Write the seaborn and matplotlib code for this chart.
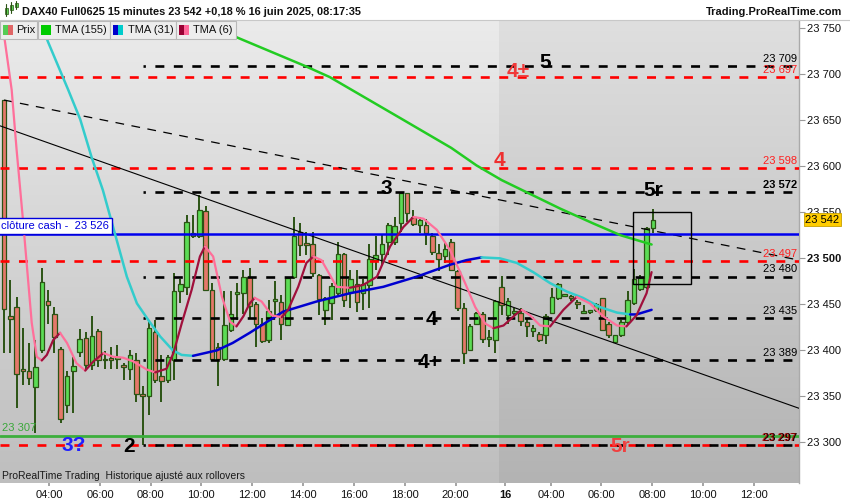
import numpy as np
import pandas as pd
import matplotlib
matplotlib.use("Agg")
import matplotlib.pyplot as plt
import matplotlib.transforms as mtrans
from matplotlib.patches import Rectangle
from matplotlib.lines import Line2D
from matplotlib.colors import LinearSegmentedColormap
import seaborn as sns

# ---------------- data (15-minute candles, DAX40 Full0625) ----------------
opens = [23672, 23437, 23447, 23379, 23378, 23360, 23400, 23454, 23439, 23401,
         23341, 23378, 23398, 23413, 23384, 23421, 23390, 23392, 23391, 23384,
         23380, 23390, 23351, 23350, 23420, 23372, 23368, 23390, 23464, 23469,
         23528, 23524, 23551, 23466, 23404, 23391, 23422, 23461, 23462, 23480,
         23450, 23429, 23411, 23454, 23453, 23427, 23480, 23529, 23517, 23516,
         23482, 23444, 23451, 23462, 23505, 23463, 23472, 23462, 23471, 23498,
         23505, 23518, 23518, 23538, 23571, 23545, 23536, 23536, 23524, 23506,
         23502, 23518, 23486, 23446, 23400, 23429, 23439, 23412, 23411, 23469,
         23438, 23441, 23441, 23431, 23421, 23418, 23417, 23441, 23457, 23459,
         23458, 23451, 23441, 23442, 23444, 23457, 23429, 23409, 23417, 23431,
         23451, 23467, 23469, 23533]
highs = [23672, 23476, 23458, 23424, 23408, 23411, 23489, 23466, 23447, 23404,
         23377, 23393, 23423, 23420, 23437, 23423, 23399, 23404, 23406, 23386,
         23400, 23397, 23361, 23433, 23433, 23395, 23395, 23484, 23478, 23547,
         23547, 23569, 23557, 23473, 23408, 23464, 23464, 23473, 23487, 23489,
         23453, 23435, 23455, 23475, 23460, 23480, 23545, 23538, 23529, 23529,
         23483, 23458, 23473, 23518, 23506, 23487, 23487, 23478, 23516, 23524,
         23525, 23538, 23545, 23572, 23571, 23553, 23545, 23543, 23527, 23516,
         23518, 23521, 23487, 23451, 23429, 23442, 23442, 23422, 23455, 23481,
         23457, 23446, 23446, 23435, 23428, 23420, 23440, 23468, 23473, 23461,
         23460, 23455, 23449, 23444, 23451, 23457, 23431, 23417, 23433, 23464,
         23488, 23482, 23534, 23554]
lows = [23397, 23397, 23337, 23362, 23362, 23310, 23397, 23429, 23397, 23321,
        23332, 23332, 23393, 23379, 23379, 23382, 23380, 23380, 23380, 23368,
        23368, 23344, 23297, 23330, 23364, 23344, 23364, 23368, 23451, 23460,
        23522, 23522, 23466, 23389, 23361, 23388, 23420, 23433, 23440, 23435,
        23404, 23408, 23408, 23435, 23411, 23426, 23478, 23502, 23504, 23480,
        23438, 23428, 23433, 23460, 23447, 23446, 23442, 23444, 23446, 23487,
        23493, 23504, 23514, 23529, 23540, 23535, 23527, 23514, 23504, 23486,
        23495, 23486, 23443, 23385, 23399, 23429, 23408, 23404, 23397, 23438,
        23429, 23438, 23426, 23414, 23414, 23409, 23407, 23440, 23455, 23458,
        23454, 23445, 23440, 23440, 23442, 23421, 23413, 23408, 23415, 23429,
        23449, 23465, 23467, 23527]
closes = [23445, 23434, 23374, 23378, 23370, 23382, 23474, 23449, 23415, 23325,
          23372, 23383, 23412, 23384, 23416, 23390, 23389, 23389, 23392, 23382,
          23395, 23353, 23350, 23424, 23368, 23367, 23393, 23464, 23472, 23539,
          23524, 23553, 23466, 23391, 23391, 23428, 23440, 23463, 23480, 23448,
          23429, 23410, 23443, 23456, 23429, 23479, 23524, 23514, 23515, 23484,
          23456, 23457, 23470, 23505, 23455, 23477, 23452, 23472, 23499, 23504,
          23516, 23536, 23535, 23571, 23549, 23537, 23542, 23527, 23507, 23499,
          23510, 23487, 23446, 23397, 23426, 23441, 23412, 23413, 23454, 23449,
          23454, 23443, 23432, 23426, 23424, 23411, 23437, 23458, 23472, 23460,
          23457, 23450, 23442, 23443, 23450, 23422, 23417, 23417, 23431, 23455,
          23478, 23479, 23533, 23542]

# moving averages (bar index, value)
tma155_bar = [32, 38, 48.8, 52.7, 64, 72, 76, 80, 86.6, 89.3, 94.5, 98.9, 103.8]
tma155_val = [23764, 23740, 23709, 23697, 23652, 23620, 23601, 23585, 23563, 23554, 23538, 23525, 23515]

tma31_bar = [6.5, 8.0, 11.2, 13.1, 14.9, 16.7, 18.6, 20.5, 22.1, 23.9, 25.8, 27.8, 29.2, 31.0,
             34.8, 37.3, 40.0, 45.3, 50.6, 55.9, 61.2, 66.5, 71.8, 74.4, 76.8, 79.7, 82.4,
             85.0, 87.7, 90.3, 92.9, 95.6, 98.3, 100.4, 101.4, 103.8]
tma31_val = [23762, 23735, 23683, 23651, 23610, 23574, 23527, 23480, 23451, 23433, 23415, 23400, 23395, 23394,
             23400, 23408, 23419, 23442, 23453, 23462, 23469, 23480, 23493, 23498, 23501, 23500, 23495,
             23485, 23473, 23464, 23457, 23447, 23441, 23439, 23439, 23444]

tma6_bar = [0.6, 1.16, 2.22, 3.0, 4.06, 5.4, 6.2, 7.0, 7.8, 8.8, 9.9, 11.0, 12.5, 13.9, 15.2, 16.8,
            18.3, 19.9, 21.5, 23.7, 25.0, 26.8, 27.9, 29.2, 30.8, 32.1, 32.9, 34.2, 35.6, 36.9,
            37.9, 39.0, 40.0, 40.8, 41.9, 43.5, 45.1, 46.1, 47.7, 49.0, 50.1, 51.4, 53.8, 55.9,
            58.0, 60.2, 62.3, 64.4, 66.0, 67.6, 69.7, 71.8, 74.2, 75.8, 77.4, 78.7, 80.3, 82.4,
            83.2, 84.5, 86.1, 87.7, 89.8, 91.9, 94.0, 96.1, 98.3, 99.8, 101.4, 103.0, 103.8]
tma6_val = [23762, 23735, 23683, 23618, 23538, 23430, 23393, 23389, 23395, 23411, 23419, 23408, 23386,
            23378, 23388, 23397, 23393, 23392, 23388, 23379, 23376, 23380, 23397, 23429, 23466, 23502,
            23513, 23502, 23458, 23431, 23426, 23437, 23451, 23457, 23453, 23438, 23436, 23444, 23469,
            23495, 23502, 23498, 23469, 23468, 23471, 23480, 23513, 23534, 23545, 23543, 23531, 23509,
            23473, 23447, 23429, 23424, 23427, 23440, 23444, 23438, 23427, 23426, 23444, 23458, 23451,
            23437, 23427, 23426, 23438, 23462, 23485]

# horizontal levels
black_levels = [23709, 23572, 23480, 23435, 23389, 23297]
red_levels = [23697, 23598, 23497, 23297]
green_support = 23307
cash_close = 23526
last_price = 23542
levels_start_bar = 23

# trendlines (bar, price)
trend_solid_bar = [0.365, 127.2]
trend_solid_val = [23644, 23337]
trend_dash_bar = [1.0, 127.2]
trend_dash_val = [23672, 23498]

# box
box_bar = [100.9, 110.0]
box_val = [23471.7, 23550.7]

# wave labels: (text, bar, price, colour)
wave_labels = [("3?", 12.0, 23297, "#1f1fff"), ("2", 20.8, 23296, "black"),
               ("3", 61.7, 23576, "black"), ("4", 68.9, 23434, "black"),
               ("4+", 68.6, 23387, "black"), ("5", 86.9, 23713, "black"),
               ("4±", 82.6, 23703, "#f03a3a"), ("4", 79.7, 23606, "#ee3030"),
               ("5r", 104.0, 23574, "black"), ("5r", 98.8, 23296, "#f04040")]

ytick_values = list(range(23300, 23751, 50))
xtick_pos = [8.19, 16.24, 24.3, 32.27, 40.37, 48.46, 56.49, 64.59, 72.68, 80.6,
             87.83, 95.76, 103.92, 111.94, 120.0]
xtick_labels = ["04:00", "06:00", "08:00", "10:00", "12:00", "14:00", "16:00", "18:00",
                "20:00", "16", "04:00", "06:00", "08:00", "10:00", "12:00"]
day_break_bar = 79.6

# ---------------- styling ----------------
sns.set_theme(style="white")
plt.rcParams['font.family'] = ['Liberation Sans', 'DejaVu Sans']

fig = plt.figure(figsize=(8.5, 5), dpi=100)
fig.patch.set_facecolor("white")
ax = fig.add_axes([0, 17 / 500, 799 / 850, 463 / 500])

X0, X1 = 0.365, 127.2
Y0, Y1 = 23255.8, 23759.0

# background gradient
grad = np.linspace(0, 1, 256).reshape(-1, 1)
cm_l = LinearSegmentedColormap.from_list("l", ["#bebebe", "#ebebeb"])
cm_r = LinearSegmentedColormap.from_list("r", ["#b3b3b3", "#dfdfdf"])
ax.imshow(grad, extent=[X0, day_break_bar, Y0, Y1], origin="lower", cmap=cm_l,
          aspect="auto", zorder=0, interpolation="bilinear")
ax.imshow(grad, extent=[day_break_bar, X1, Y0, Y1], origin="lower", cmap=cm_r,
          aspect="auto", zorder=0, interpolation="bilinear")

# candles
df = pd.DataFrame({"bar": np.arange(1, len(opens) + 1), "open": opens, "high": highs,
                   "low": lows, "close": closes})
up = df["close"] >= df["open"]
wick = "#2b5314"
ax.vlines(df["bar"], df["low"], df["high"], color=wick, lw=1.4, zorder=2)
body_lo = np.minimum(df["open"], df["close"])
body_h = np.maximum((df["close"] - df["open"]).abs(), 2.0)
ax.bar(df["bar"], body_h, bottom=body_lo, width=0.72,
       color=np.where(up, "#5cdc55", "#e5786a"), edgecolor=wick, linewidth=0.9, zorder=2.2)

# levels
ax.hlines(red_levels, X0, X1, colors="#ff0000", lw=1.9, linestyles=(0, (3.4, 3.6)), zorder=3)
ax.hlines(black_levels, levels_start_bar, X1, colors="black", lw=1.9,
          linestyles=(2.5, (3.4, 3.6)), zorder=3)
ax.axhline(green_support, color="#3cae3c", lw=2.0, zorder=3)
ax.axhline(cash_close, color="#0000ee", lw=1.8, zorder=5)

# trendlines
sns.lineplot(x=trend_solid_bar, y=trend_solid_val, color="black", lw=0.8, ax=ax, zorder=3)
ln = sns.lineplot(x=trend_dash_bar, y=trend_dash_val, color="black", lw=0.9, ax=ax, zorder=3)
ln.lines[-1].set_dashes([7, 6])


def slope_plot(xs, ys, up_col, dn_col, lw):
    runs = []
    cur = [0]
    sign = None
    for i in range(1, len(xs)):
        s = ys[i] >= ys[i - 1]
        if sign is None or s == sign:
            cur.append(i)
            sign = s
        else:
            runs.append((cur, sign))
            cur = [i - 1, i]
            sign = s
    runs.append((cur, sign))
    for idx, s in runs:
        sns.lineplot(x=[xs[j] for j in idx], y=[ys[j] for j in idx],
                     color=up_col if s else dn_col, lw=lw, ax=ax, zorder=6,
                     estimator=None, sort=False)


sns.lineplot(x=tma155_bar, y=tma155_val, color="#22cc22", lw=1.8, ax=ax, zorder=6,
             estimator=None, sort=False)
slope_plot(tma31_bar, tma31_val, "#0000d0", "#33cccc", 1.8)
slope_plot(tma6_bar, tma6_val, "#a0103c", "#ff6f9a", 1.6)

# box
ax.add_patch(Rectangle((box_bar[0], box_val[0]), box_bar[1] - box_bar[0], box_val[1] - box_val[0],
                       fill=False, ec="black", lw=1.0, zorder=7))

# wave labels
for s, b, p, c in wave_labels:
    ax.text(b, p, s, color=c, fontsize=15, fontweight="bold", ha="center", va="center", zorder=8)


def fmt(v):
    return f"{int(round(v)):,}".replace(",", " ")


# level value labels at right edge
lab_x = 126.9
for lv in black_levels[:-1]:
    ax.annotate(fmt(lv), (lab_x, lv), xytext=(0, 5.4), textcoords="offset points",
                ha="right", va="center", fontsize=8, color="black",
                fontweight="bold" if lv == 23572 else "normal", zorder=8)
for lv in red_levels[:-1]:
    ax.annotate(fmt(lv), (lab_x, lv), xytext=(0, 5.4), textcoords="offset points",
                ha="right", va="center", fontsize=8, color="#ff2020", zorder=8)
ax.annotate(fmt(23297), (lab_x, 23297), xytext=(0, 5.4), textcoords="offset points",
            ha="right", va="center", fontsize=8, color="black", fontweight="bold", zorder=8)
ax.annotate(fmt(23297), (lab_x, 23297), xytext=(-0.6, 5.0), textcoords="offset points",
            ha="right", va="center", fontsize=8, color="#c00000", fontweight="bold",
            alpha=0.7, zorder=8)
ax.annotate(fmt(green_support), (0.7, green_support), xytext=(0, 5.6), textcoords="offset points",
            ha="left", va="center", fontsize=8, color="#3aa83a", zorder=8)

ax.annotate("clôture cash -  " + fmt(cash_close), (0.55, cash_close), xytext=(0, 6.0),
            textcoords="offset points", ha="left", va="center", fontsize=8, color="#0000dd",
            zorder=9, bbox=dict(boxstyle="square,pad=0.25", fc="white", ec="#0000dd", lw=1.0))

ax.text(0.003, 0.015, "ProRealTime Trading  Historique ajusté aux rollovers", transform=ax.transAxes,
        fontsize=7.5, color="#1a1a1a", ha="left", va="center", zorder=9)

# axes
ax.set_xlim(X0, X1)
ax.set_ylim(Y0, Y1)
ax.set_xlabel("")
ax.set_ylabel("")
for side in ["top", "left", "bottom"]:
    ax.spines[side].set_visible(False)
ax.spines["right"].set_color("#aaaaaa")
ax.spines["right"].set_linewidth(1.0)
ax.yaxis.tick_right()
ax.set_yticks(ytick_values)
ax.set_yticklabels([fmt(v) for v in ytick_values])
for t, v in zip(ax.get_yticklabels(), ytick_values):
    if v == 23500:
        t.set_fontweight("bold")
ax.tick_params(axis="y", right=True, length=4, width=0.8, color="#999999", pad=2,
               labelsize=8, labelcolor="#111111")
ax.set_xticks(xtick_pos)
ax.set_xticklabels(xtick_labels)
for t, s in zip(ax.get_xticklabels(), xtick_labels):
    if s == "16":
        t.set_fontweight("bold")
ax.tick_params(axis="x", bottom=True, length=2, color="#999999", pad=3, labelsize=8,
               labelcolor="#111111")
ax.grid(False)

trans = mtrans.blended_transform_factory(ax.transAxes, ax.transData)
ax.text(1.008, last_price, fmt(last_price), transform=trans, ha="left", va="center", fontsize=8,
        color="black", clip_on=False, zorder=10,
        bbox=dict(boxstyle="square,pad=0.15", fc="#ffcc00", ec="#c8a000", lw=0.6))

# header
fig.text(22 / 850, 1 - 12 / 500, "DAX40 Full0625 15 minutes 23 542 +0,18 % 16 juin 2025, 08:17:35",
         fontsize=7.9, fontweight="bold", ha="left", va="center", color="#111111")
fig.text(842 / 850, 1 - 12 / 500, "Trading.ProRealTime.com", fontsize=7.9, fontweight="bold",
         ha="right", va="center", color="#111111")
# tiny candle icon
for (cx, y0, y1, b0, b1) in [(6, 4, 16, 8, 14), (11, 2, 13, 5, 10), (16, 1, 9, 3, 7)]:
    fig.add_artist(Line2D([cx / 850, cx / 850], [1 - y1 / 500, 1 - y0 / 500],
                          color="#2b5314", lw=0.8))
    fig.add_artist(Rectangle(((cx - 1.5) / 850, 1 - b1 / 500), 3 / 850, (b1 - b0) / 500,
                             fc="#5cdc55", ec="#2b5314", lw=0.5))
fig.add_artist(Line2D([0, 1], [1 - 20 / 500, 1 - 20 / 500], color="#c8c8c8", lw=0.8))

# legend row
boxes = [(0, 37, "Prix", ("#55cc55", "#e06666"), 16),
         (38, 110, "TMA (155)", ("#00cc00", "#00cc00"), 55),
         (110, 176, "TMA (31)", ("#0000cc", "#00cccc"), 128),
         (176, 236, "TMA (6)", ("#990033", "#ff6699"), 193)]
for x0, x1, txt, cols, tx in boxes:
    fig.add_artist(Rectangle((x0 / 850, 1 - 38.5 / 500), (x1 - x0) / 850, 17 / 500,
                             fc="#ededed", ec="#b8b8b8", lw=0.8, zorder=20))
    sx = x0 + 3
    fig.add_artist(Rectangle((sx / 850, 1 - 35 / 500), 5 / 850, 10 / 500, fc=cols[0], ec="none",
                             zorder=21))
    fig.add_artist(Rectangle(((sx + 5) / 850, 1 - 35 / 500), 5 / 850, 10 / 500, fc=cols[1],
                             ec="none", zorder=21))
    fig.text(tx / 850, 1 - 30 / 500, txt, fontsize=8, ha="left", va="center", color="#111111",
             zorder=22)

fig.savefig("out.png", dpi=100)
